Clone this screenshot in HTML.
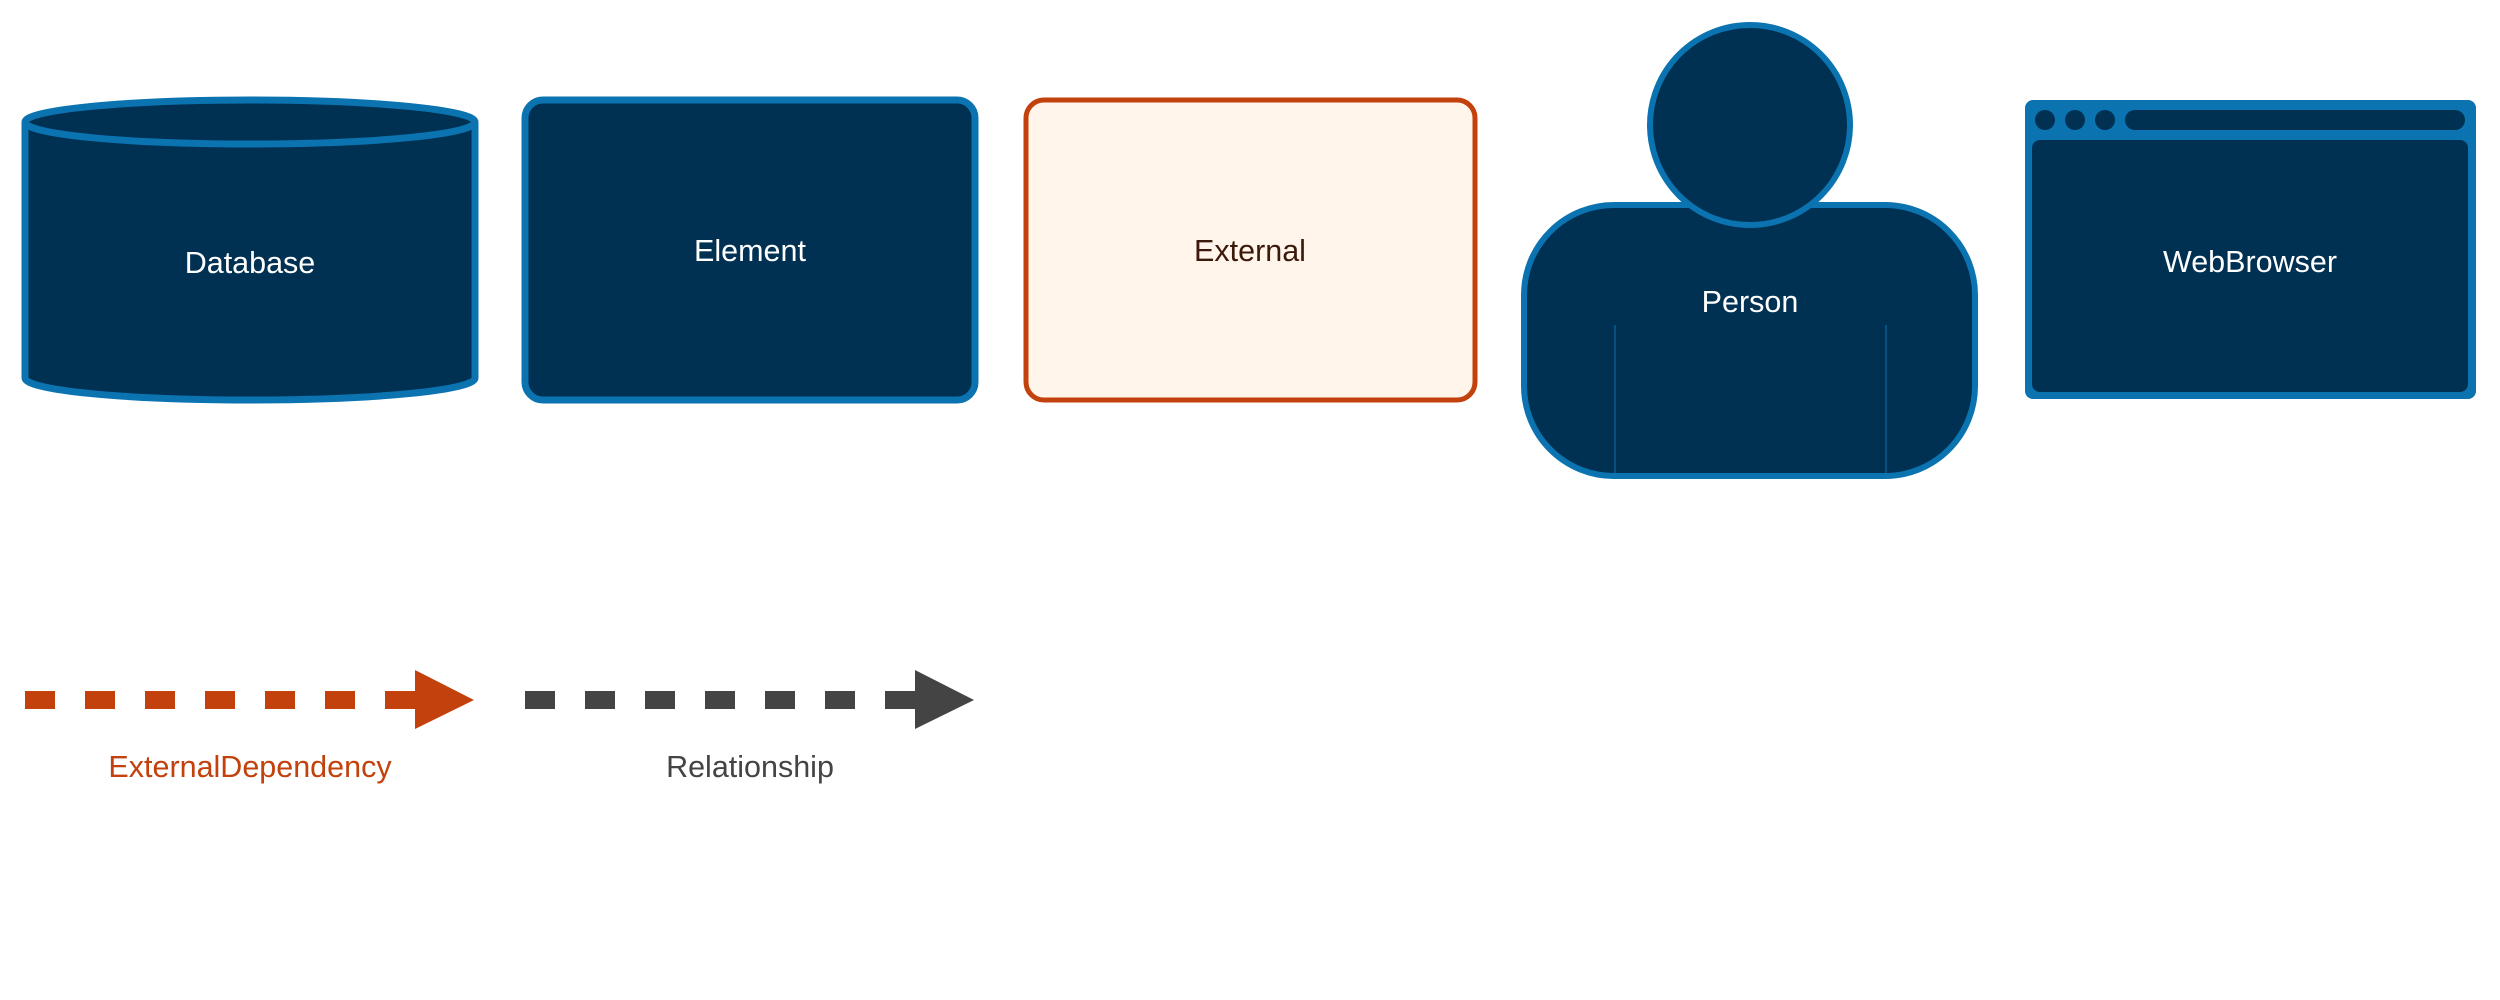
<!DOCTYPE html>
<html><head><meta charset="utf-8"><style>
html,body{margin:0;padding:0;background:#fff;}
svg{display:block;}
text{font-family:"Liberation Sans",sans-serif;font-size:30.5px;text-anchor:middle;dominant-baseline:middle;}
</style></head><body>
<svg width="2500" height="1000" viewBox="0 0 2500 1000" xmlns="http://www.w3.org/2000/svg">
<!-- Database -->
<path d="M25,122 L25,378 A225,22 0 0 0 475,378 L475,122" fill="#003052" stroke="#0a73b0" stroke-width="7"/>
<ellipse cx="250" cy="122" rx="225" ry="22" fill="#003052" stroke="#0a73b0" stroke-width="7"/>
<text x="250" y="265" fill="#fff">Database</text>
<!-- Element -->
<rect x="525" y="100" width="450" height="300" rx="18" fill="#003052" stroke="#0a73b0" stroke-width="7"/>
<text x="750" y="253" fill="#fff">Element</text>
<!-- External -->
<rect x="1026" y="100" width="449" height="300" rx="18" fill="#fff5eb" stroke="#c2410c" stroke-width="5"/>
<text x="1250" y="253" fill="#3b1a0c">External</text>
<!-- Person -->
<rect x="1524" y="205" width="451" height="271" rx="90" fill="#003052" stroke="#0a73b0" stroke-width="6"/>
<circle cx="1750" cy="125" r="100" fill="#003052" stroke="#0a73b0" stroke-width="6"/>
<line x1="1615" y1="325" x2="1615" y2="473" stroke="#0a5a90" stroke-width="1.5"/>
<line x1="1886" y1="325" x2="1886" y2="473" stroke="#0a5a90" stroke-width="1.5"/>
<text x="1750" y="304" fill="#fff">Person</text>
<!-- WebBrowser -->
<rect x="2025" y="100" width="451" height="299" rx="8" fill="#0a73b0"/>
<rect x="2032" y="140" width="436" height="252" rx="8" fill="#003052"/>
<circle cx="2045" cy="120" r="10" fill="#003052"/>
<circle cx="2075" cy="120" r="10" fill="#003052"/>
<circle cx="2105" cy="120" r="10" fill="#003052"/>
<rect x="2125" y="110" width="340" height="20" rx="10" fill="#003052"/>
<text x="2250" y="264" fill="#fff">WebBrowser</text>
<!-- ExternalDependency -->
<line x1="25" y1="700" x2="418" y2="700" stroke="#c2410c" stroke-width="18" stroke-dasharray="30 30"/>
<polygon points="415,670 474,700 415,729" fill="#c2410c"/>
<text x="250" y="769" fill="#c2410c">ExternalDependency</text>
<!-- Relationship -->
<line x1="525" y1="700" x2="918" y2="700" stroke="#444" stroke-width="18" stroke-dasharray="30 30"/>
<polygon points="915,670 974,700 915,729" fill="#444"/>
<text x="750" y="769" fill="#444">Relationship</text>
</svg>
</body></html>
